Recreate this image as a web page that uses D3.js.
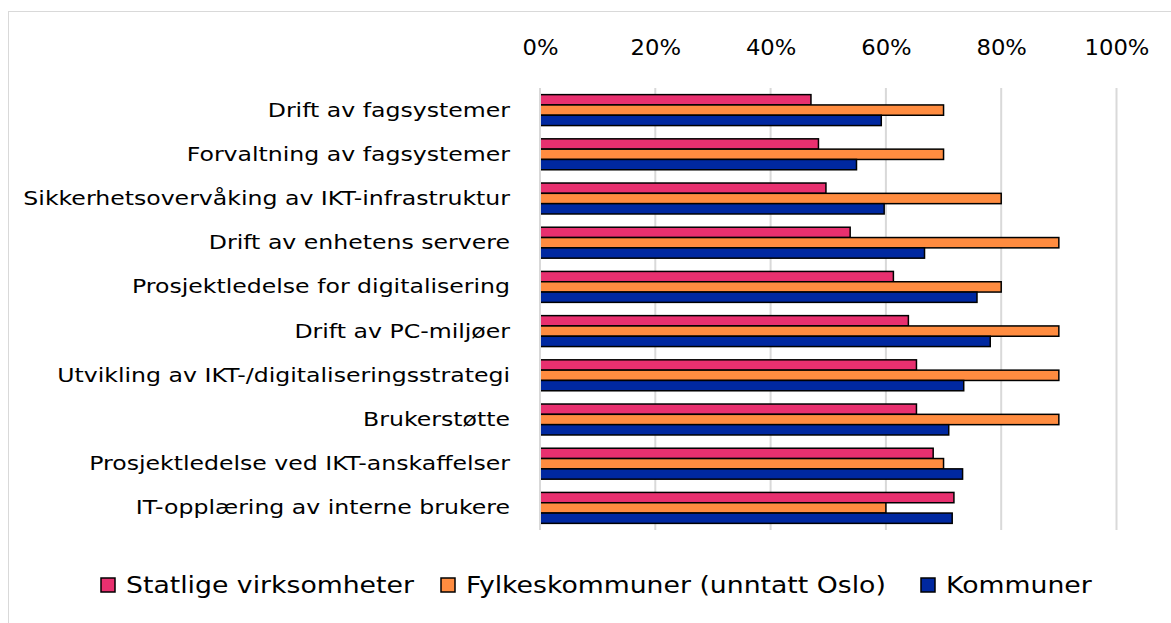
<!DOCTYPE html>
<html><head><meta charset="utf-8">
<script src="https://cdn.jsdelivr.net/npm/d3@7"></script>
<style>body{margin:0;background:#fff}svg{display:block}text{font-family:"DejaVu Sans",sans-serif;fill:#000}</style>
</head><body>
<svg id="c" width="1171" height="623"></svg>
<script>
const categories = ["Drift av fagsystemer","Forvaltning av fagsystemer","Sikkerhetsovervåking av IKT-infrastruktur","Drift av enhetens servere","Prosjektledelse for digitalisering","Drift av PC-miljøer","Utvikling av IKT-/digitaliseringsstrategi","Brukerstøtte","Prosjektledelse ved IKT-anskaffelser","IT-opplæring av interne brukere"];
const seriesNames = ["Statlige virksomheter","Fylkeskommuner (unntatt Oslo)","Kommuner"];
const statlige = [0.47,0.483,0.496,0.538,0.613,0.639,0.653,0.653,0.682,0.718];
const fylkes = [0.70,0.70,0.80,0.90,0.80,0.90,0.90,0.90,0.70,0.60];
const kommuner = [0.592,0.549,0.597,0.667,0.758,0.781,0.735,0.709,0.733,0.715];
const colors = ["#e8306f","#ff8c40","#0028a0"];
const ticks = [0,0.2,0.4,0.6,0.8,1.0];

const svg = d3.select("#c");
svg.append("rect").attr("x",8.5).attr("y",11.5).attr("width",1200).attr("height",700).attr("fill","none").attr("stroke","#d9d9d9").attr("stroke-width",1);

const x = d3.scaleLinear().domain([0,1]).range([540,1116.5]);
const y = d3.scaleBand().domain(categories).range([88,530]).paddingInner(0.3).paddingOuter(0.15);
const ys = d3.scaleBand().domain([0,1,2]).range([0,y.bandwidth()]);

const g = svg.append("g");
g.selectAll("line.grid").data(ticks).join("line").attr("class","grid")
 .attr("x1",d=>x(d)).attr("x2",d=>x(d)).attr("y1",88).attr("y2",530)
 .attr("stroke","#d9d9d9").attr("stroke-width",2);

function fitText(sel, ratio){ sel.each(function(){ const t=this; const w=t.getComputedTextLength(); t.setAttribute("textLength", w*ratio); t.setAttribute("lengthAdjust","spacingAndGlyphs"); }); }

const xAxis = d3.axisTop(x).tickValues(ticks).tickFormat(d3.format(".0%")).tickSize(0).tickPadding(0);
const ax = svg.append("g").attr("transform","translate(0,55)").call(xAxis);
ax.select(".domain").remove();
ax.selectAll("text").style("font-size","21px").style("font-family","'DejaVu Sans',sans-serif").attr("fill","#000");
fitText(ax.selectAll("text"), 1.08);

const yAxis = d3.axisLeft(y).tickSize(0).tickPadding(0);
const ay = svg.append("g").attr("transform","translate(510,0)").call(yAxis);
ay.select(".domain").remove();
ay.selectAll("text").style("font-size","20px").style("font-family","'DejaVu Sans',sans-serif").attr("fill","#000");
fitText(ay.selectAll("text"), 1.18);

const series = [statlige, fylkes, kommuner];
series.forEach((vals,si)=>{
  g.selectAll("rect.s"+si).data(vals).join("rect").attr("class","s"+si)
   .attr("x",x(0)).attr("y",(d,i)=>y(categories[i])+ys(si))
   .attr("width",d=>x(d)-x(0)).attr("height",ys.bandwidth())
   .attr("fill",colors[si]).attr("stroke","#000").attr("stroke-width",1.5);
});
g.append("line").attr("x1",x(0)).attr("x2",x(0)).attr("y1",88).attr("y2",530).attr("stroke","#d9d9d9").attr("stroke-width",2);

const legX = [101,441,921];
const lg = svg.append("g");
seriesNames.forEach((n,i)=>{
  lg.append("rect").attr("x",legX[i]).attr("y",578).attr("width",14).attr("height",14)
    .attr("fill",colors[i]).attr("stroke","#000").attr("stroke-width",1.5);
  const t = lg.append("text").attr("x",legX[i]+25).attr("y",585).attr("dy","0.35em").style("font-size","23px").text(n);
  fitText(t, 1.16);
});
</script>
</body></html>
